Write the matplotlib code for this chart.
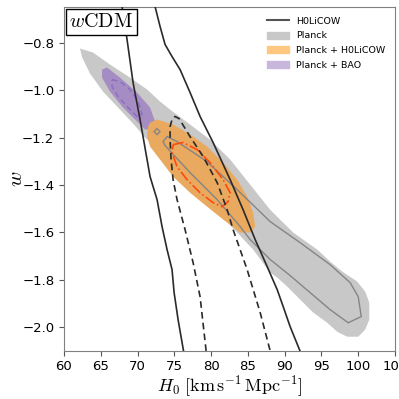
import numpy as np
import matplotlib
matplotlib.use('Agg')
import matplotlib.pyplot as plt
from matplotlib.lines import Line2D
from matplotlib.patches import Patch

plt.rcParams['mathtext.fontset'] = 'cm'

# Planck, 95% region (fill) and 68% line
planck_outer_h0 = [62.18, 63.95, 66.26, 68.98, 71.29, 73.06, 74.42, 77.14, 79.86, 82.59, 85.31,
                   88.03, 89.39, 91.16, 92.52, 94.42, 96.19, 97.82, 99.86, 100.95, 101.50, 101.50,
                   100.95, 100.00, 98.50, 97.14, 95.78, 93.88, 92.11, 90.34, 88.98, 88.03, 85.71,
                   83.54, 81.22, 78.50, 75.78, 72.38, 71.02, 69.66, 67.62, 65.31, 63.54, 62.45]
planck_outer_w = [-0.824, -0.841, -0.892, -0.947, -0.997, -1.048, -1.082, -1.145, -1.209, -1.293, -1.399,
                  -1.505, -1.547, -1.601, -1.631, -1.673, -1.724, -1.766, -1.808, -1.851, -1.897, -1.969,
                  -2.011, -2.041, -2.041, -2.020, -1.982, -1.939, -1.884, -1.829, -1.791, -1.770, -1.673,
                  -1.601, -1.525, -1.441, -1.356, -1.238, -1.200, -1.150, -1.082, -1.006, -0.930, -0.860]
planck_inner_h0 = [73.47, 74.01, 75.37, 79.46, 83.54, 88.03, 92.11, 96.19, 98.91, 100.00, 100.41,
                   98.64, 96.19, 93.47, 90.75, 88.03, 85.31, 83.95, 80.82, 77.14, 73.74]
planck_inner_w = [-1.217, -1.196, -1.217, -1.302, -1.420, -1.555, -1.644, -1.737, -1.813, -1.872, -1.956,
                  -1.982, -1.927, -1.855, -1.783, -1.715, -1.631, -1.576, -1.462, -1.348, -1.234]
planck_island_h0 = [72.25, 72.65, 73.05, 72.65]
planck_island_w = [-1.175, -1.162, -1.175, -1.188]

# Planck + H0LiCOW
comb_outer_h0 = [71.70, 72.65, 74.83, 77.14, 79.46, 81.63, 83.54, 84.90, 85.71, 85.99, 85.31,
                 83.95, 81.63, 79.46, 77.14, 74.83, 73.06, 71.70, 71.29, 71.43]
comb_outer_w = [-1.137, -1.124, -1.145, -1.187, -1.238, -1.306, -1.378, -1.449, -1.517, -1.576, -1.601,
                -1.601, -1.546, -1.492, -1.433, -1.365, -1.293, -1.238, -1.196, -1.154]
comb_inner_h0 = [74.83, 76.19, 78.10, 79.86, 81.63, 82.59, 82.31, 81.50, 80.27, 78.50, 76.73, 75.37, 74.69]
comb_inner_w = [-1.230, -1.221, -1.251, -1.306, -1.378, -1.433, -1.470, -1.492, -1.475, -1.433, -1.378,
                -1.323, -1.264]

# Planck + BAO
bao_outer_h0 = [65.17, 65.85, 67.62, 69.93, 71.70, 72.38, 71.97, 71.02, 69.93, 68.03, 66.26, 65.17]
bao_outer_w = [-0.913, -0.904, -0.947, -1.010, -1.073, -1.132, -1.166, -1.166, -1.132, -1.073, -1.006, -0.947]
bao_inner_h0 = [66.53, 67.62, 68.98, 70.07, 70.61, 69.93, 68.71, 67.35, 66.53]
bao_inner_w = [-0.955, -0.964, -0.997, -1.048, -1.103, -1.111, -1.073, -1.027, -0.985]

# H0LiCOW, 95% (solid, two branches) and 68% (dashed)
lens_left_h0 = [67.89, 68.57, 69.39, 70.34, 71.70, 72.65, 73.33, 74.01, 74.69, 74.97, 75.51, 76.30]
lens_left_w = [-0.647, -0.786, -0.968, -1.124, -1.365, -1.462, -1.576, -1.673, -1.758, -1.855, -1.969, -2.11]
lens_right_h0 = [72.38, 73.06, 73.74, 74.69, 75.78, 77.14, 78.50, 80.27, 82.59, 84.35, 85.99, 87.62,
                 88.98, 89.80, 90.75, 92.20]
lens_right_w = [-0.647, -0.731, -0.807, -0.858, -0.913, -1.010, -1.111, -1.221, -1.378, -1.505, -1.631,
                -1.745, -1.842, -1.914, -1.999, -2.11]
lens_dash_h0 = [79.32, 78.50, 77.55, 76.46, 75.37, 74.83, 74.56, 74.42, 74.42, 74.69, 75.10, 75.65,
                77.14, 78.91, 80.82, 82.18, 82.99, 84.90, 86.67, 88.03]
lens_dash_w = [-2.101, -1.872, -1.728, -1.589, -1.462, -1.378, -1.293, -1.209, -1.154, -1.124, -1.111, -1.120,
               -1.196, -1.280, -1.390, -1.505, -1.589, -1.758, -1.939, -2.101]

fig = plt.figure(figsize=(3.99, 3.99), dpi=100)
ax = fig.add_axes([0.1604, 0.1211, 0.8296, 0.8606])

# Planck
ax.fill(planck_outer_h0, planck_outer_w, color='#c8c8c8', lw=0, zorder=1)
ax.fill(planck_inner_h0, planck_inner_w, fill=False, ec='#858585', lw=1.0, zorder=4)
ax.fill(planck_island_h0, planck_island_w, fill=False, ec='#858585', lw=1.0, zorder=4)

# Planck + BAO
ax.fill(bao_outer_h0, bao_outer_w, color='#a58dc4', lw=0, zorder=2)
ax.fill(bao_inner_h0, bao_inner_w, fill=False, ec='#8a6cbf', lw=1.0, ls=(0, (4, 2.5)), zorder=3)

# Planck + H0LiCOW
ax.fill(comb_outer_h0, comb_outer_w, color='#e9a95e', lw=0, zorder=2)
ax.fill(comb_inner_h0, comb_inner_w, fill=False, ec='#ff4a10', lw=1.2, ls='-.', zorder=5)

# H0LiCOW
ax.plot(lens_left_h0, lens_left_w, color='#2a2a2a', lw=1.2, zorder=6)
ax.plot(lens_right_h0, lens_right_w, color='#2a2a2a', lw=1.2, zorder=6)
ax.plot(lens_dash_h0, lens_dash_w, color='#2a2a2a', lw=1.2, ls=(0, (4, 2.5)), zorder=6)

ax.set_xlim(60, 105)
ax.set_ylim(-2.1, -0.65)
ax.set_xticks(np.arange(60, 106, 5))
ax.set_yticks([-0.8, -1.0, -1.2, -1.4, -1.6, -1.8, -2.0])
ax.tick_params(labelsize=9.5, length=3.5, color='#555555')
for s in ax.spines.values():
    s.set_color('#808080')

ax.set_xlabel(r'$H_0\ [\mathrm{km\,s^{-1}\,Mpc^{-1}}]$', fontsize=13, labelpad=0)
ax.set_ylabel(r'$w$', fontsize=15)
ax.yaxis.set_label_coords(-0.115, 0.5)

ax.text(0.016, 0.985, r'$w\mathrm{CDM}$', transform=ax.transAxes, fontsize=14.5,
        ha='left', va='top', zorder=10,
        bbox=dict(boxstyle='square,pad=0.18', fc='white', ec='black', lw=1.0))

handles = [Line2D([], [], color='#555555', lw=1.5),
           Patch(color='#c8c8c8'),
           Patch(color='#ffc780'),
           Patch(color='#c9b6dc')]
labels = ['H0LiCOW', 'Planck', 'Planck + H0LiCOW', 'Planck + BAO']
ax.legend(handles, labels, loc='upper right', frameon=False, fontsize=6.8,
          handlelength=2.3, handleheight=0.8, labelspacing=0.6, borderaxespad=0.6,
          bbox_to_anchor=(1.0, 1.0))

fig.savefig('out.png', dpi=100)
